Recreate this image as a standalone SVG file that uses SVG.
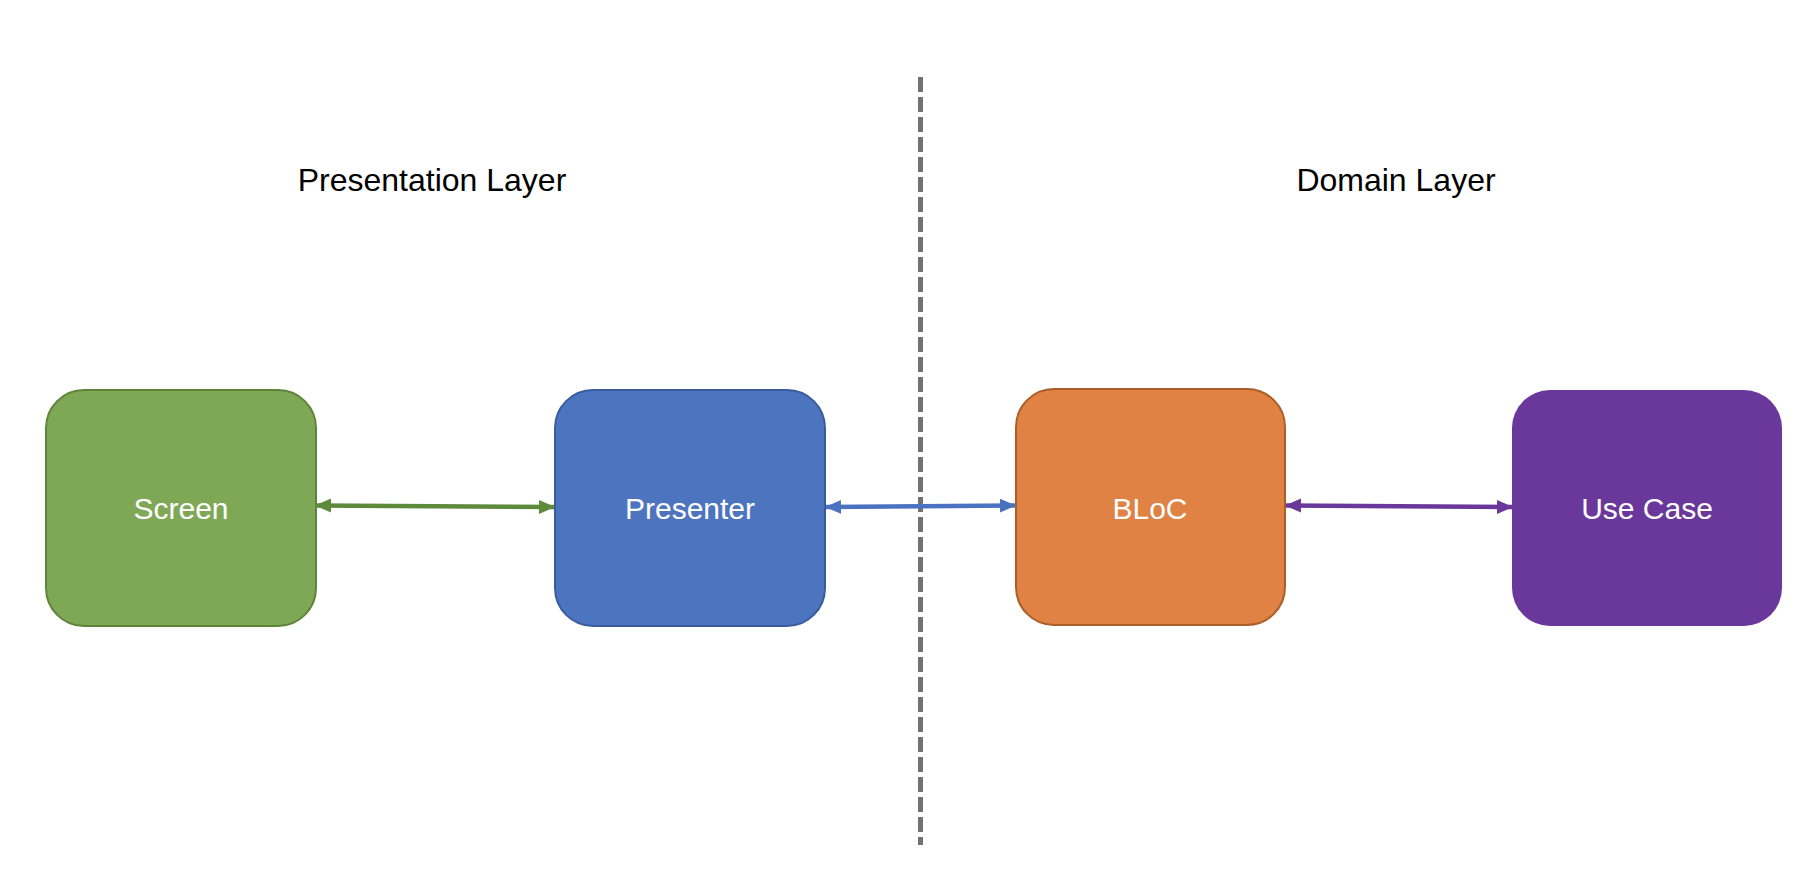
<svg xmlns="http://www.w3.org/2000/svg" width="1814" height="872" viewBox="0 0 1814 872">
<style>
.lbl{font-family:"Liberation Sans",Arial,sans-serif;font-size:32px;fill:#000;text-anchor:middle}
.nt{font-family:"Liberation Sans",Arial,sans-serif;font-size:30px;fill:#fff;text-anchor:middle}
.box{stroke-width:2}
.conn{fill:none;stroke-width:4.5}
</style>
<defs>
<marker id="ag" viewBox="0 0 16 16" refX="15" refY="8" markerWidth="16" markerHeight="16" markerUnits="userSpaceOnUse" orient="auto-start-reverse"><path d="M0,1 L16,8 L0,15 Z" fill="#5E8A3C"/></marker>
<marker id="ab" viewBox="0 0 16 16" refX="15" refY="8" markerWidth="16" markerHeight="16" markerUnits="userSpaceOnUse" orient="auto-start-reverse"><path d="M0,1 L16,8 L0,15 Z" fill="#4A72C0"/></marker>
<marker id="ap" viewBox="0 0 16 16" refX="15" refY="8" markerWidth="16" markerHeight="16" markerUnits="userSpaceOnUse" orient="auto-start-reverse"><path d="M0,1 L16,8 L0,15 Z" fill="#6A389A"/></marker>
</defs>
<rect width="1814" height="872" fill="#fff"/>
<line x1="920.5" y1="77" x2="920.5" y2="845" stroke="#757171" stroke-width="5" stroke-dasharray="15 5"/>
<text class="lbl" x="432" y="191">Presentation Layer</text>
<text class="lbl" x="1396" y="191">Domain Layer</text>
<g id="screen"><rect class="box" x="46" y="390" width="270" height="236" rx="38" fill="#7EA856" stroke="#5D8439"/><text class="nt" x="181" y="519">Screen</text></g>
<g id="presenter"><rect class="box" x="555" y="390" width="270" height="236" rx="38" fill="#4D74BE" stroke="#3A5C9C"/><text class="nt" x="690" y="519">Presenter</text></g>
<g id="bloc"><rect class="box" x="1016" y="389" width="269" height="236" rx="38" fill="#DF8244" stroke="#AC5E28"/><text class="nt" x="1150" y="519">BLoC</text></g>
<g id="usecase"><rect x="1512" y="390" width="270" height="236" rx="38" fill="#6A389A"/><text class="nt" x="1647" y="519">Use Case</text></g>
<g id="connectors">
<line class="conn" x1="316" y1="505.5" x2="554" y2="507" stroke="#5E8A3C" marker-start="url(#ag)" marker-end="url(#ag)"/>
<line class="conn" x1="826" y1="507" x2="1015" y2="505.5" stroke="#4A72C0" marker-start="url(#ab)" marker-end="url(#ab)"/>
<line class="conn" x1="1286" y1="505.5" x2="1512" y2="507" stroke="#6A389A" marker-start="url(#ap)" marker-end="url(#ap)"/>
</g>
</svg>
